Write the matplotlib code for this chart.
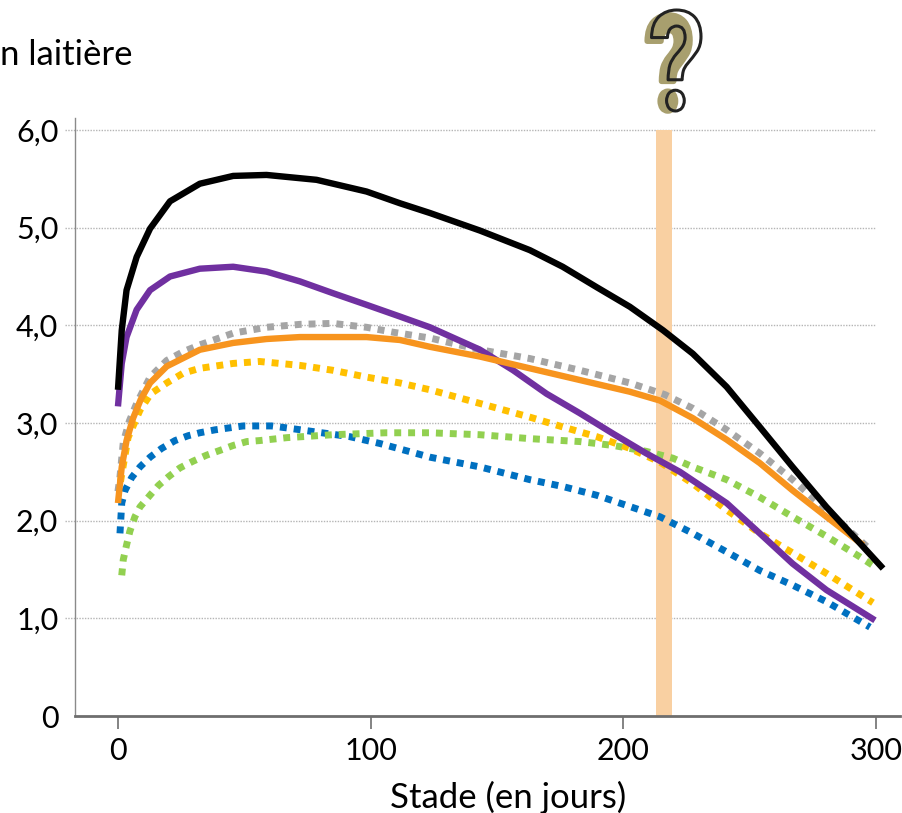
import matplotlib
matplotlib.use("Agg")
import matplotlib.pyplot as plt
import numpy as np
from matplotlib.textpath import TextPath
from matplotlib.font_manager import FontProperties
from matplotlib.patches import PathPatch
from matplotlib.path import Path

plt.rcParams['font.family'] = ['Lato', 'DejaVu Sans']

# ---------------- data ----------------
black_x = [0, 1.5, 3.4, 7.4, 12.7, 20.6, 32.4, 45.6, 58.8, 78.6, 98.4, 111.6, 123.5, 143.3, 163, 176,
           189.5, 202.6, 215.7, 227.5, 240.9, 254, 267, 280.4, 293.6, 302.8]
black_y = [3.34, 3.95, 4.36, 4.70, 4.99, 5.27, 5.45, 5.53, 5.54, 5.49, 5.37, 5.25, 5.15, 4.97, 4.77, 4.60,
           4.39, 4.19, 3.95, 3.71, 3.37, 2.96, 2.55, 2.14, 1.77, 1.51]

purple_x = [0, 1.5, 3.4, 7.4, 12.7, 20.6, 32.4, 45.6, 58.8, 72, 85, 98.4, 111.6, 123.5, 143.3, 156.4,
            169.6, 182.8, 196, 209, 222.4, 240.9, 254, 267, 280.4, 299.6]
purple_y = [3.17, 3.61, 3.88, 4.16, 4.36, 4.50, 4.58, 4.60, 4.55, 4.45, 4.33, 4.21, 4.09, 3.98, 3.75, 3.54,
            3.30, 3.10, 2.89, 2.69, 2.50, 2.18, 1.87, 1.56, 1.29, 0.98]

gray_x = [0, 0.8, 2.1, 4.5, 7.4, 12.7, 19.3, 25.8, 32.4, 45.6, 58.8, 72, 85, 98.4, 108.8, 123.5, 143.3,
          163, 182.8, 202.6, 216.5, 227.5, 240.9, 254, 267, 280.4, 297]
gray_y = [2.30, 2.45, 2.80, 3.02, 3.20, 3.47, 3.64, 3.73, 3.80, 3.92, 3.98, 4.01, 4.02, 3.98, 3.93, 3.87, 3.75,
          3.66, 3.54, 3.41, 3.29, 3.15, 2.93, 2.69, 2.42, 2.11, 1.72]

orange_x = [0, 1.5, 3.4, 6, 9, 12.7, 19.3, 32.4, 45.6, 58.8, 72, 85, 98.4, 111.6, 123.5, 143.3, 163,
            182.8, 202.6, 214.5, 227.5, 240.9, 254, 267, 280.4, 294.9]
orange_y = [2.18, 2.55, 2.82, 3.05, 3.24, 3.41, 3.58, 3.75, 3.82, 3.86, 3.88, 3.88, 3.88, 3.85, 3.78, 3.68, 3.56,
            3.44, 3.32, 3.23, 3.05, 2.83, 2.59, 2.31, 2.04, 1.75]

yellow_x = [1, 4, 8.7, 13, 19.3, 25.8, 32.4, 45.6, 56, 72, 85, 98.4, 111.6, 123.5, 143.3, 163, 176,
            189.5, 202.6, 214.5, 227.5, 240.9, 254, 267, 280.4, 298.8]
yellow_y = [2.40, 2.85, 3.13, 3.30, 3.41, 3.51, 3.56, 3.61, 3.63, 3.59, 3.54, 3.47, 3.41, 3.34, 3.20, 3.06, 2.96,
            2.86, 2.74, 2.60, 2.38, 2.11, 1.87, 1.67, 1.46, 1.16]

blue_x = [0.8, 1.5, 2.8, 5.4, 8.7, 12.7, 17.3, 22.6, 27.8, 32.4, 38.4, 49.6, 60.8, 66.8, 91.8, 103.7,
          123.5, 143.3, 163, 176, 189.5, 214.5, 227.5, 240.9, 254, 267, 280.4, 297.6]
blue_y = [1.87, 2.18, 2.31, 2.44, 2.55, 2.65, 2.74, 2.82, 2.87, 2.90, 2.93, 2.97, 2.97, 2.95, 2.86, 2.79,
          2.65, 2.55, 2.42, 2.35, 2.26, 2.04, 1.87, 1.68, 1.49, 1.34, 1.17, 0.91]

green_x = [1.5, 2.1, 3.4, 4.7, 6.7, 8.7, 12, 16, 20, 24.5, 29.8, 35, 40.4, 45.6, 51, 56, 66.8, 85, 106,
           123.5, 143.3, 163, 182.8, 196, 209, 219.6, 227.5, 240.9, 254, 267, 280.4, 293.6, 300.7]
green_y = [1.44, 1.60, 1.75, 1.89, 2.04, 2.14, 2.24, 2.36, 2.45, 2.54, 2.61, 2.67, 2.72, 2.77, 2.81, 2.82,
           2.85, 2.88, 2.90, 2.90, 2.88, 2.84, 2.81, 2.77, 2.71, 2.64, 2.55, 2.42, 2.24, 2.04, 1.84, 1.63, 1.51]

band_x = [213, 219.3]
y_ticks = [0, 1, 2, 3, 4, 5, 6]
y_labels = ["0", "1,0", "2,0", "3,0", "4,0", "5,0", "6,0"]
x_ticks = [0, 100, 200, 300]
x_labels = ["0", "100", "200", "300"]

# ---------------- figure ----------------
W, H = 902, 813
fig = plt.figure(figsize=(W / 100, H / 100), dpi=100)
ax = fig.add_axes([75 / W, 1 - 716 / H, (900 - 75) / W, (716 - 118) / H])
ax.set_xlim(-17, 309.5)
ax.set_ylim(0, 6.123)

# grid lines
for yv in y_ticks[1:]:
    ax.hlines(yv, -21, 300, colors="#b5b5b5", linestyles=(0, (1, 1)), linewidth=1.0, zorder=1, clip_on=False)

# band
ax.fill_between(band_x, 0, 6.0, color="#F9D0A2", linewidth=0, zorder=2)

dot = (0, (1, 1))
kw_d = dict(linestyle=dot, linewidth=5, dash_capstyle="butt", zorder=3)
kw_s = dict(linewidth=4.6, solid_capstyle="butt", solid_joinstyle="round", zorder=4)
ax.plot(gray_x, gray_y, color="#A5A5A5", **kw_d)
ax.plot(blue_x, blue_y, color="#0070C0", **kw_d)
ax.plot(green_x, green_y, color="#92D050", **kw_d)
ax.plot(yellow_x, yellow_y, color="#FFC000", **kw_d)
ax.plot(purple_x, purple_y, color="#7030A0", **kw_s)
ax.plot(orange_x, orange_y, color="#F7941E", **kw_s)
ax.plot(black_x, black_y, color="#000000", **kw_s)

# spines
for s in ["top", "right"]:
    ax.spines[s].set_visible(False)
ax.spines["left"].set_color("#8a8a8a")
ax.spines["left"].set_linewidth(1.0)
ax.spines["bottom"].set_color("#6e6e6e")
ax.spines["bottom"].set_linewidth(2.0)

ax.set_yticks(y_ticks)
ax.set_yticklabels(y_labels, fontsize=22)
ax.tick_params(axis="y", length=0, pad=12)
ax.set_xticks(x_ticks)
ax.set_xticklabels(x_labels, fontsize=22)
ax.tick_params(axis="x", direction="out", length=9, width=1.2, color="#6e6e6e", pad=6)
ax.set_xlabel("Stade (en jours)", fontsize=25)
ax.xaxis.set_label_coords((508 - 75) / 825, (716 - 797) / 598)
ax.xaxis.label.set_verticalalignment("center")

# title fragment
fig.text(0.0, 1 - 55 / H, "n laitière", fontsize=25, ha="left", va="center")

# question mark
fp = FontProperties(family=["Roboto", "DejaVu Sans"], weight="bold")
tp = TextPath((0, 0), "?", prop=fp, size=100)
verts = tp.vertices.copy()
x0, y0 = verts[:, 0].min(), verts[:, 1].min()
x1, y1 = verts[:, 0].max(), verts[:, 1].max()


def place(box, face, edge, lw):
    left, right, top, bottom = box
    v = verts.copy()
    px = left + (v[:, 0] - x0) / (x1 - x0) * (right - left)
    py = bottom - (v[:, 1] - y0) / (y1 - y0) * (bottom - top)
    nv = np.column_stack([px / W, 1 - py / H])
    p = Path(nv, tp.codes)
    patch = PathPatch(p, facecolor=face, edgecolor=edge, linewidth=lw, transform=fig.transFigure,
                      joinstyle="round")
    fig.patches.append(patch)


place((645, 690, 15, 111), "#A89F6E", "#A89F6E", 4.0)
place((649, 701, 10, 111), "none", "#222222", 2.2)

fig.savefig("out.png", dpi=100)
